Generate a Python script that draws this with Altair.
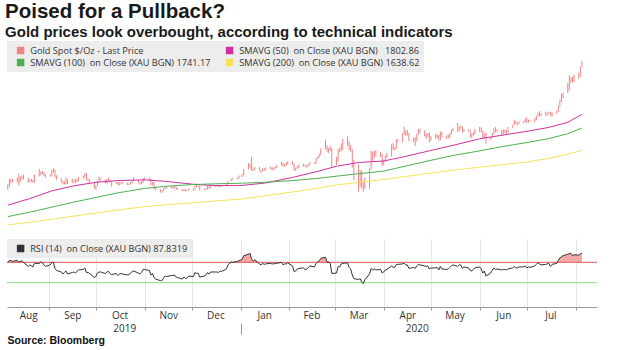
import altair as alt
import pandas as pd

TITLE = "Poised for a Pullback?"
SUBTITLE = "Gold prices look overbought, according to technical indicators"
SOURCE = "Source: Bloomberg"

# trading days (XAU spot, weekdays except Christmas / New Year)
FIRST_DAY = "2019-08-06"
LAST_DAY = "2020-08-05"
HOLIDAYS = ["2019-12-25", "2020-01-01"]

# ---- daily gold spot bars (close / low / high), month by month ----
CLOSE = {
    "2019-08": [1474,1502,1500,1497,1511,1501,1516,1524,1513,1496,1507,1502,1498,1527,1527,1542,1538,1527,1520],
    "2019-09": [1529,1547,1550,1519,1507,1499,1486,1497,1506,1488,1498,1501,1494,1506,1517,1522,1532,1504,1505,1497,1472],
    "2019-10": [1479,1500,1505,1505,1494,1505,1506,1495,1489,1495,1482,1490,1493,1490,1484,1487,1492,1504,1505,1493,1488,1496,1513],
    "2019-11": [1514,1510,1484,1491,1467,1459,1456,1456,1463,1471,1468,1472,1472,1474,1465,1462,1455,1462,1455,1457,1464],
    "2019-12": [1463,1477,1474,1476,1460,1462,1465,1475,1470,1476,1476,1476,1475,1479,1478,1486,1499,1511,1510,1515,1517],
    "2020-01": [1528,1552,1566,1574,1556,1552,1562,1548,1545,1556,1552,1557,1560,1558,1558,1564,1572,1582,1567,1576,1576,1589],
    "2020-02": [1577,1553,1556,1566,1570,1572,1567,1566,1576,1584,1581,1601,1611,1620,1643,1659,1635,1643,1642,1585],
    "2020-03": [1589,1640,1636,1668,1673,1679,1649,1635,1576,1530,1514,1526,1478,1471,1498,1553,1631,1613,1630,1617,1622,1577],
    "2020-04": [1591,1614,1620,1663,1647,1646,1684,1683,1714,1727,1716,1717,1683,1694,1686,1714,1732,1729,1713,1707,1713,1687],
    "2020-05": [1700,1701,1705,1686,1725,1702,1697,1702,1716,1730,1743,1733,1745,1746,1725,1735,1728,1710,1708,1719,1730],
    "2020-06": [1740,1727,1699,1714,1684,1698,1715,1737,1728,1730,1725,1727,1727,1723,1744,1754,1768,1761,1762,1771,1772,1781],
    "2020-07": [1769,1775,1773,1784,1795,1809,1804,1798,1802,1809,1811,1796,1810,1818,1842,1871,1888,1902,1940,1957,1970,1957,1975],
    "2020-08": [1976,2019,2039],
}
LOW = {
    "2019-08": [1459,1472,1490,1493,1493,1480,1496,1510,1506,1492,1494,1496,1492,1492,1521,1526,1531,1522,1516],
    "2019-09": [1519,1524,1538,1515,1506,1493,1485,1484,1485,1486,1489,1494,1491,1493,1498,1512,1516,1503,1498,1490,1466],
    "2019-10": [1459,1476,1496,1503,1490,1487,1501,1492,1474,1486,1481,1479,1484,1488,1481,1480,1484,1490,1501,1490,1483,1486,1492],
    "2019-11": [1504,1505,1480,1480,1462,1456,1448,1446,1454,1462,1465,1465,1466,1468,1460,1459,1453,1454,1453,1454,1456],
    "2019-12": [1454,1461,1472,1472,1458,1458,1460,1462,1464,1467,1473,1474,1473,1472,1475,1477,1485,1498,1506,1508,1511],
    "2020-01": [1517,1525,1553,1558,1546,1547,1548,1547,1536,1544,1547,1548,1555,1547,1552,1553,1560,1571,1564,1565,1569,1573],
    "2020-02": [1573,1548,1547,1554,1560,1566,1564,1561,1565,1572,1578,1578,1599,1606,1617,1643,1633,1627,1637,1563],
    "2020-03": [1573,1587,1631,1634,1641,1660,1641,1632,1560,1504,1451,1475,1466,1451,1465,1464,1552,1591,1605,1611,1608,1568],
    "2020-04": [1572,1589,1604,1612,1641,1639,1645,1678,1675,1710,1706,1707,1680,1675,1660,1681,1710,1719,1703,1692,1701,1676],
    "2020-05": [1683,1692,1694,1683,1685,1697,1692,1693,1696,1713,1726,1723,1726,1738,1719,1724,1725,1698,1696,1706,1712],
    "2020-06": [1722,1722,1694,1696,1670,1686,1696,1713,1721,1724,1705,1712,1719,1714,1720,1741,1754,1758,1752,1759,1763,1767],
    "2020-07": [1763,1765,1770,1767,1777,1793,1795,1795,1795,1799,1806,1795,1793,1806,1814,1838,1860,1877,1900,1911,1945,1949,1950],
    "2020-08": [1964,1974,2017],
}
HIGH = {
    "2019-08": [1485,1510,1508,1510,1515,1534,1521,1525,1527,1514,1508,1510,1506,1530,1555,1543,1546,1541,1530],
    "2019-09": [1531,1550,1557,1552,1526,1511,1501,1499,1517,1508,1512,1506,1510,1509,1518,1525,1535,1536,1511,1508,1497],
    "2019-10": [1481,1502,1518,1511,1506,1509,1515,1506,1496,1496,1496,1493,1497,1496,1492,1489,1495,1505,1517,1506,1494,1498,1514],
    "2019-11": [1517,1516,1511,1495,1494,1474,1462,1459,1468,1474,1474,1476,1475,1477,1474,1467,1463,1464,1463,1459,1466],
    "2019-12": [1466,1480,1485,1478,1478,1465,1468,1477,1478,1478,1480,1480,1478,1481,1481,1487,1500,1512,1515,1516,1525],
    "2020-01": [1531,1554,1582,1577,1611,1558,1563,1564,1549,1557,1558,1561,1564,1562,1562,1566,1573,1588,1583,1577,1586,1590],
    "2020-02": [1592,1579,1561,1568,1575,1578,1575,1570,1578,1585,1585,1604,1612,1624,1649,1689,1663,1651,1660,1649],
    "2020-03": [1610,1645,1652,1671,1692,1703,1681,1665,1646,1595,1575,1548,1547,1500,1516,1557,1637,1635,1637,1640,1632,1624],
    "2020-04": [1598,1616,1627,1666,1672,1655,1690,1690,1718,1747,1729,1733,1719,1697,1699,1714,1737,1738,1730,1716,1718,1722],
    "2020-05": [1704,1715,1711,1710,1726,1723,1708,1710,1718,1735,1743,1765,1747,1753,1750,1737,1735,1731,1716,1722,1737],
    "2020-06": [1746,1744,1730,1717,1721,1702,1719,1740,1745,1736,1732,1736,1733,1734,1746,1755,1779,1773,1766,1772,1774,1785],
    "2020-07": [1789,1778,1779,1786,1797,1811,1818,1809,1816,1811,1815,1814,1814,1819,1843,1871,1898,1903,1945,1981,1971,1974,1984],
    "2020-08": [1992,2021,2046],
}
# ---- RSI (14), daily ----
RSI = {
    "2019-08": [70,74,73,72,74,70,72,73,70,62,65,63,61,68,68,71,69,65,62],
    "2019-09": [65,70,70,58,54,51,47,50,53,47,50,51,49,52,55,56,59,50,50,48,40],
    "2019-10": [42,49,51,51,48,51,52,48,46,48,44,47,48,47,45,46,48,52,53,49,47,50,56],
    "2019-11": [56,54,45,48,40,37,34,34,39,43,42,44,44,45,41,40,37,41,38,39,43],
    "2019-12": [42,50,48,49,41,43,45,50,47,51,51,51,50,53,52,57,65,71,70,72,73],
    "2020-01": [76,83,86,88,76,73,75,67,65,68,66,67,68,67,67,68,68,70,65,67,67,69],
    "2020-02": [63,52,53,57,58,59,56,56,60,63,61,68,71,73,78,80,70,71,68,48],
    "2020-03": [49,62,61,67,68,69,60,57,45,38,36,38,31,28,36,47,58,55,57,55,56,49],
    "2020-04": [51,55,56,63,60,60,66,66,67,68,65,65,58,60,58,63,66,65,63,62,63,57],
    "2020-05": [59,59,60,55,62,57,56,57,60,63,65,62,65,65,58,61,59,54,53,56,59],
    "2020-06": [61,57,49,53,43,49,54,59,56,57,55,56,56,55,57,59,62,59,59,61,61,63],
    "2020-07": [59,61,60,63,66,69,67,65,66,67,68,62,66,68,74,79,81,83,86,87,88,83,85],
    "2020-08": [84,87,87.83],
}

# ---- moving averages ----
SMA50_DATES = ["2019-08-06","2019-08-20","2019-09-03","2019-09-17","2019-10-01","2019-10-15","2019-11-01",
               "2019-11-15","2019-12-02","2019-12-16","2020-01-02","2020-01-16","2020-02-03","2020-02-18",
               "2020-03-02","2020-03-16","2020-04-01","2020-04-15","2020-05-01","2020-05-15","2020-06-01",
               "2020-06-15","2020-07-01","2020-07-15","2020-07-27","2020-08-05"]
SMA50 = [1390,1420,1455,1478,1494,1502,1505,1498,1485,1479,1480,1490,1516,1542,1567,1584,1591,1612,1639,1662,
         1692,1708,1726,1744,1767,1803]
SMA100_DATES = SMA50_DATES
SMA100 = [1338,1358,1381,1404,1425,1446,1466,1476,1484,1487,1490,1494,1502,1511,1522,1533,1545,1568,1594,1616,
          1637,1656,1675,1693,1715,1741]
SMA200_DATES = SMA50_DATES
SMA200 = [1300,1312,1326,1340,1354,1368,1383,1392,1401,1409,1418,1432,1450,1466,1482,1494,1507,1521,1536,1549,
          1563,1574,1586,1603,1622,1639]

NB = "\u00a0"
SERIES = [
    "Gold Spot $/Oz - Last Price",
    f"SMAVG (50){NB} on Close (XAU BGN){NB}{NB} 1802.86",
    f"SMAVG (100){NB} on Close (XAU BGN) 1741.17",
    f"SMAVG (200){NB} on Close (XAU BGN) 1638.62",
]
COLORS = ["#f08585", "#cf2f9f", "#4cb050", "#f4e35a"]
RSI_LABEL = f"RSI (14){NB} on Close (XAU BGN) 87.8319"

PRICE_TICKS = [1300, 1400, 1500, 1600, 1700, 1800, 1900, 2000, 2100]
RSI_TICKS = [0, 50, 100]
RSI_UPPER = 70
RSI_LOWER = 30
MONTH_STARTS = ["2019-09-01","2019-10-01","2019-11-01","2019-12-01","2020-01-01","2020-02-01","2020-03-01",
                "2020-04-01","2020-05-01","2020-06-01","2020-07-01","2020-08-01"]
MONTH_LABEL_DATES = ["2019-08-19","2019-09-16","2019-10-16","2019-11-16","2019-12-16","2020-01-16","2020-02-15",
                     "2020-03-16","2020-04-16","2020-05-16","2020-06-16","2020-07-16"]
YEAR_LABEL_DATES = ["2019-10-19", "2020-04-22"]


def dt(s, hours=0):
    y, m, d = (int(p) for p in s.split("-"))
    return alt.DateTime(year=y, month=m, date=d, hours=hours)


def flat(d):
    out = []
    for k in sorted(d):
        out.extend(d[k])
    return out


days = pd.bdate_range(FIRST_DAY, LAST_DAY)
days = days[~days.isin(pd.to_datetime(HOLIDAYS))]

price_df = pd.DataFrame({"date": days, "close": flat(CLOSE), "low": flat(LOW), "high": flat(HIGH)})
price_df["series"] = SERIES[0]
rsi_df = pd.DataFrame({"date": days, "rsi": flat(RSI)})
rsi_df["series"] = RSI_LABEL

sma_df = pd.concat([
    pd.DataFrame({"date": pd.to_datetime(SMA50_DATES), "value": SMA50, "series": SERIES[1]}),
    pd.DataFrame({"date": pd.to_datetime(SMA100_DATES), "value": SMA100, "series": SERIES[2]}),
    pd.DataFrame({"date": pd.to_datetime(SMA200_DATES), "value": SMA200, "series": SERIES[3]}),
])

X_DOMAIN = [dt("2019-08-05", 12), dt("2020-08-14", 14)]
W = 590
PINK = "#f3a6b6"
GRID = "#e6e6e6"
SMALL_FONT = "Open Sans"

color_scale = alt.Scale(domain=SERIES, range=COLORS)
legend_common = dict(title=None, orient="top-left", offset=0, padding=4, fillColor="#ededed",
                     symbolType="square", symbolSize=12, symbolStrokeWidth=4, symbolOffset=5,
                     labelFont=SMALL_FONT, labelFontSize=9.2, labelColor="#333", labelLimit=400,
                     labelOffset=5, rowPadding=1, clipHeight=11, direction="horizontal")
price_legend = alt.Legend(columns=2, columnPadding=9, **legend_common)

x_top = alt.X("date:T", scale=alt.Scale(domain=X_DOMAIN, nice=False),
              axis=alt.Axis(orient="bottom", values=[dt(s) for s in MONTH_STARTS], grid=True, gridColor=GRID,
                            ticks=False, labels=False, domainColor="#3a3a3a", domainWidth=3, title=None))
y_price = alt.Scale(domain=[1236, 2137], nice=False, zero=False)

bars = alt.Chart(price_df).mark_rule(strokeWidth=1).encode(
    x=x_top,
    y=alt.Y("low:Q", scale=y_price,
            axis=alt.Axis(orient="right", values=PRICE_TICKS, grid=True, gridColor=GRID, domainColor=PINK,
                          tickColor=PINK, tickSize=3, labelFont=SMALL_FONT, labelFontSize=10.5,
                          labelColor="#333", labelPadding=2, title=None)),
    y2="high:Q",
    color=alt.Color("series:N", scale=color_scale, legend=price_legend),
)
lines = alt.Chart(sma_df).mark_line(strokeWidth=1).encode(
    x=alt.X("date:T", axis=None),
    y=alt.Y("value:Q", axis=None),
    color=alt.Color("series:N", scale=color_scale, legend=price_legend),
)
price = alt.layer(bars, lines).properties(width=W, height=198)

# ---- RSI panel ----
y_rsi = alt.Scale(domain=[-18, 116], nice=False, zero=False)
x_scale_rsi = alt.Scale(domain=X_DOMAIN, nice=False)
jan_test = "month(datum.value) == 0"
area = alt.Chart(rsi_df).transform_calculate(
    hi=f"max(datum.rsi, {RSI_UPPER})", lo=f"{RSI_UPPER}"
).mark_area(color="#f3a3a3", opacity=0.95).encode(
    x=alt.X("date:T", scale=x_scale_rsi,
            axis=alt.Axis(orient="bottom", values=[dt(s) for s in MONTH_STARTS], grid=True, gridColor=GRID,
                          labels=False, ticks=True, tickColor="#9a9a9a",
                          tickSize={"condition": {"test": jan_test, "value": 27}, "value": 3},
                          tickDash={"condition": {"test": jan_test, "value": [3, 13, 11, 0]}, "value": []},
                          domainColor="#9a9a9a", title=None)),
    y=alt.Y("hi:Q", scale=y_rsi,
            axis=alt.Axis(orient="right", values=RSI_TICKS, grid=True, gridColor="#eeeeee", domainColor=PINK,
                          tickColor=PINK, tickSize=3, labelFont=SMALL_FONT, labelFontSize=10.5,
                          labelColor="#333", labelPadding=2, title=None)),
    y2="lo:Q",
)
upper = alt.Chart(pd.DataFrame({"level": [RSI_UPPER]})).mark_rule(color="#e25a5a", strokeWidth=1).encode(
    y=alt.Y("level:Q", scale=y_rsi, axis=None))
lower = alt.Chart(pd.DataFrame({"level": [RSI_LOWER]})).mark_rule(color="#8ddc8d", strokeWidth=1).encode(
    y=alt.Y("level:Q", scale=y_rsi, axis=None))
rsi_line = alt.Chart(rsi_df).mark_line(strokeWidth=1).encode(
    x=alt.X("date:T",
            axis=alt.Axis(orient="bottom", values=[dt(s) for s in MONTH_LABEL_DATES], ticks=False, domain=False,
                          grid=False, format="%b", labelFont=SMALL_FONT, labelFontSize=10,
                          labelColor="#333", labelPadding=3, labelFlush=False, labelOverlap=False, title=None)),
    y=alt.Y("rsi:Q", scale=y_rsi, axis=None),
    color=alt.Color("series:N", scale=alt.Scale(domain=[RSI_LABEL], range=["#333333"]),
                    legend=alt.Legend(**legend_common)),
)
years = alt.Chart(rsi_df).mark_point(opacity=0).encode(
    x=alt.X("date:T",
            axis=alt.Axis(orient="bottom", values=[dt(s) for s in YEAR_LABEL_DATES], ticks=False, domain=False,
                          grid=False, format="%Y", labelFont=SMALL_FONT, labelFontSize=10,
                          labelColor="#333", labelPadding=16, labelFlush=False, labelOverlap=False,
                          title=SOURCE, titleFont="Liberation Sans", titleFontSize=10.5,
                          titleFontWeight="bold", titleColor="#111", titleAnchor="start", titleAlign="left",
                          titlePadding=2)),
    y=alt.Y("rsi:Q", scale=y_rsi, axis=None),
)
rsi = alt.layer(area, upper, lower, rsi_line, years).resolve_axis(x="independent").properties(width=W, height=68)

chart = alt.vconcat(price, rsi, spacing=0).resolve_scale(color="independent").properties(
    title=alt.TitleParams(text=TITLE, subtitle=SUBTITLE, anchor="start", font="Liberation Sans", fontSize=20.5,
                          fontWeight="bold", color="#1a1a1a", subtitleFont="Liberation Sans",
                          subtitleFontSize=15, subtitleFontWeight="bold", subtitleColor="#1a1a1a",
                          subtitlePadding=3, offset=1),
    padding={"left": 5, "top": 1, "right": 0, "bottom": 0},
    background="white",
).configure_view(strokeWidth=0)

chart.save("out.html", embed_options={"renderer": "svg", "actions": False})
